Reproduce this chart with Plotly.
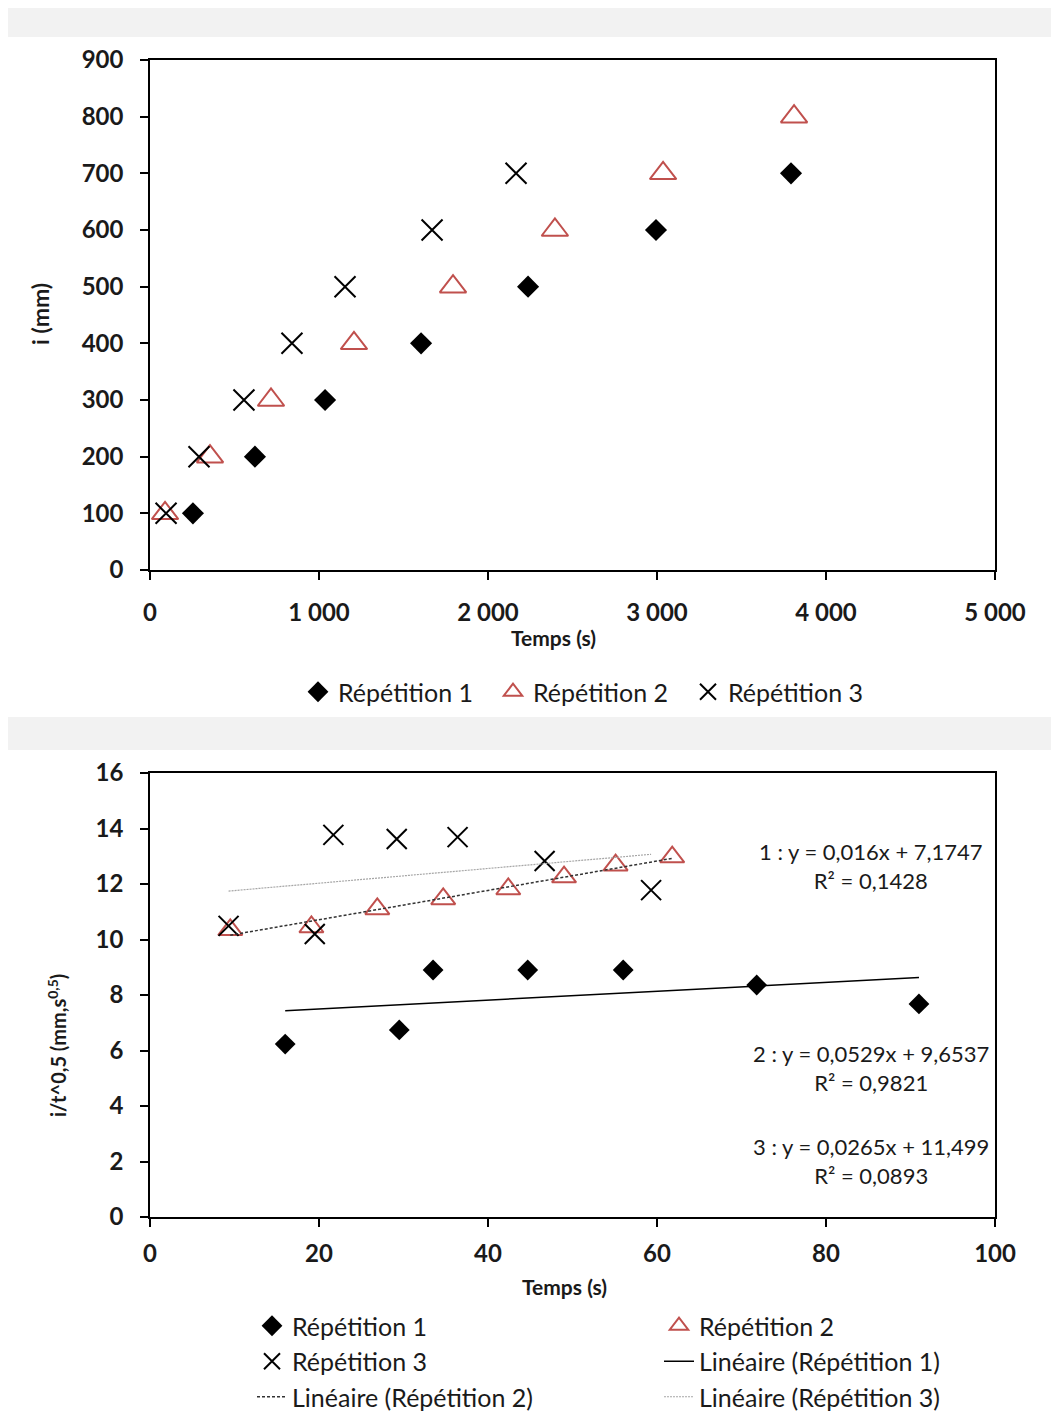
import numpy as np
import plotly.graph_objects as go

# ---------------- Data ----------------
# Top chart: infiltration i (mm) vs time (s)
rep1_t = [254, 621, 1036, 1604, 2237, 2994, 3793]
rep1_i = [100, 200, 300, 400, 500, 600, 700]
rep2_t = [89, 355, 716, 1207, 1793, 2396, 3036, 3811]
rep2_i = [100, 200, 300, 400, 500, 600, 700, 800]
rep3_t = [95, 290, 556, 840, 1154, 1669, 2166]
rep3_i = [100, 200, 300, 400, 500, 600, 700]

# Bottom chart: i/t^0.5 vs t^0.5
rep1_x = [16.0, 29.5, 33.5, 44.7, 56.0, 71.8, 91.0]
rep1_y = [6.23, 6.74, 8.90, 8.90, 8.90, 8.36, 7.68]
rep2_x = [9.5, 19.1, 26.9, 34.7, 42.4, 49.0, 55.1, 61.8]
rep2_y = [10.35, 10.45, 11.10, 11.46, 11.82, 12.25, 12.68, 12.97]
rep3_x = [9.3, 19.5, 21.7, 29.2, 36.4, 46.7, 59.3]
rep3_y = [10.49, 10.20, 13.77, 13.62, 13.69, 12.83, 11.78]

# Trendline coefficients (as displayed)
slopes = [0.016, 0.0529, 0.0265]
intercepts = [7.1747, 9.6537, 11.499]
r2_values = ["0,1428", "0,9821", "0,0893"]
eq_labels = ["1 : y = 0,016x + 7,1747", "2 : y = 0,0529x + 9,6537", "3 : y = 0,0265x + 11,499"]

top_xticks = [0, 1000, 2000, 3000, 4000, 5000]
top_xticklabels = ["0", "1 000", "2 000", "3 000", "4 000", "5 000"]
top_yticks = [0, 100, 200, 300, 400, 500, 600, 700, 800, 900]
bot_xticks = [0, 20, 40, 60, 80, 100]
bot_yticks = [0, 2, 4, 6, 8, 10, 12, 14, 16]

series_names = ["Répétition 1", "Répétition 2", "Répétition 3"]

# ---------------- Layout helpers ----------------
# The page body adds an 8 px margin; positions below are screen pixels.
OFF = 8
W, H = 1059 - 2 * OFF, 1423 - 2 * OFF
def px(x):
    return (x - OFF) / W
def py(y):
    return 1 - (y - OFF) / H

FONT = "Lato"
TXT = "#1a1a1a"
RED = "#c0504d"

fig = go.Figure()

# Top chart traces
fig.add_trace(go.Scatter(x=rep1_t, y=rep1_i, mode="markers", name=series_names[0],
                         marker=dict(symbol="diamond", size=17, color="black"),
                         xaxis="x", yaxis="y", legend="legend"))
fig.add_trace(go.Scatter(x=rep2_t, y=rep2_i, mode="markers", name=series_names[1],
                         marker=dict(symbol="triangle-up-open", size=23, color=RED, line=dict(width=2, color=RED)),
                         xaxis="x", yaxis="y", legend="legend"))
fig.add_trace(go.Scatter(x=rep3_t, y=rep3_i, mode="markers", name=series_names[2],
                         marker=dict(symbol="x-thin-open", size=21, color="black", line=dict(width=2, color="black")),
                         xaxis="x", yaxis="y", legend="legend"))

# Bottom chart traces
fig.add_trace(go.Scatter(x=rep1_x, y=rep1_y, mode="markers", name=series_names[0],
                         marker=dict(symbol="diamond", size=16, color="black"),
                         xaxis="x2", yaxis="y2", legend="legend2"))
fig.add_trace(go.Scatter(x=rep2_x, y=rep2_y, mode="markers", name=series_names[1],
                         marker=dict(symbol="triangle-up-open", size=21, color=RED, line=dict(width=2, color=RED)),
                         xaxis="x2", yaxis="y2", legend="legend2"))
fig.add_trace(go.Scatter(x=rep3_x, y=rep3_y, mode="markers", name=series_names[2],
                         marker=dict(symbol="x-thin-open", size=20, color="black", line=dict(width=2, color="black")),
                         xaxis="x2", yaxis="y2", legend="legend2"))

line_styles = [dict(color="black", width=1.5, dash="solid"),
               dict(color="#333333", width=1.5, dash="3px,2px"),
               dict(color="#a6a6a6", width=1.2, dash="2px,1px")]
xs_all = [rep1_x, rep2_x, rep3_x]
for k in range(3):
    xx = np.array([min(xs_all[k]), max(xs_all[k])])
    yy = slopes[k] * xx + intercepts[k]
    fig.add_trace(go.Scatter(x=xx, y=yy, mode="lines", name=f"Linéaire ({series_names[k]})",
                             line=line_styles[k], xaxis="x2", yaxis="y2", legend="legend2"))

# Equation annotations
eq_y = [866, 1068, 1161]
for k in range(3):
    fig.add_annotation(x=px(871), y=py(eq_y[k]), xref="paper", yref="paper",
                       xanchor="center", yanchor="middle",
                       text=f"{eq_labels[k]}<br>R² = {r2_values[k]}", showarrow=False,
                       align="center", font=dict(family=FONT, size=22, color=TXT))

# Axis titles as annotations
def title_ann(x, y, text, size, angle=0):
    fig.add_annotation(x=px(x), y=py(y), xref="paper", yref="paper", text=text,
                       xanchor="center", yanchor="middle", showarrow=False, textangle=angle,
                       font=dict(family=FONT, size=size, color=TXT))

title_ann(553, 637, "<b>Temps (s)</b>", 21)
title_ann(40, 314, "<b>i (mm)</b>", 23, -90)
title_ann(564, 1286, "<b>Temps (s)</b>", 21)
title_ann(57, 1046, "<b>i/t^0,5 (mm,s<sup>0,5</sup>)</b>", 20, -90)

# White panels over grey page
shapes = [
    dict(type="rect", xref="paper", yref="paper", x0=px(8), x1=1, y0=py(717), y1=py(37),
         fillcolor="white", line=dict(width=0), layer="below"),
    dict(type="rect", xref="paper", yref="paper", x0=px(8), x1=1, y0=0, y1=py(750),
         fillcolor="white", line=dict(width=0), layer="below"),
]

axis_common = dict(showgrid=False, zeroline=False, showline=True, linecolor="black", linewidth=1.5,
                   mirror=True, ticks="outside", ticklen=8, tickwidth=1.5, tickcolor="black",
                   tickfont=dict(family=FONT, size=24, color=TXT, weight="bold"))

fig.update_layout(
    width=W, height=H,
    margin=dict(l=0, r=0, t=0, b=0, autoexpand=False),
    paper_bgcolor="#f2f2f2",
    plot_bgcolor="white",
    shapes=shapes,
    xaxis=dict(domain=[px(150), px(995)], range=[0, 5000], tickvals=top_xticks, ticktext=top_xticklabels,
               anchor="y", ticklabelstandoff=12, **axis_common),
    yaxis=dict(domain=[py(570), py(60)], range=[0, 900], tickvals=top_yticks,
               anchor="x", ticklabelstandoff=12, **axis_common),
    xaxis2=dict(domain=[px(150), px(995)], range=[0, 100], tickvals=bot_xticks,
                anchor="y2", ticklabelstandoff=6, **axis_common),
    yaxis2=dict(domain=[py(1217), py(773)], range=[0, 16], tickvals=bot_yticks,
                anchor="x2", ticklabelstandoff=12, **axis_common),
    legend=dict(orientation="h", x=px(298), y=py(692), xanchor="left", yanchor="middle",
                font=dict(family=FONT, size=25, color=TXT), bgcolor="rgba(0,0,0,0)",
                entrywidth=150, itemsizing="trace"),
    legend2=dict(orientation="h", x=px(252), y=py(1303), xanchor="left", yanchor="top",
                 font=dict(family=FONT, size=25, color=TXT), bgcolor="rgba(0,0,0,0)",
                 entrywidth=362, itemsizing="trace"),
    showlegend=True,
)

fig.write_html("out.html")
